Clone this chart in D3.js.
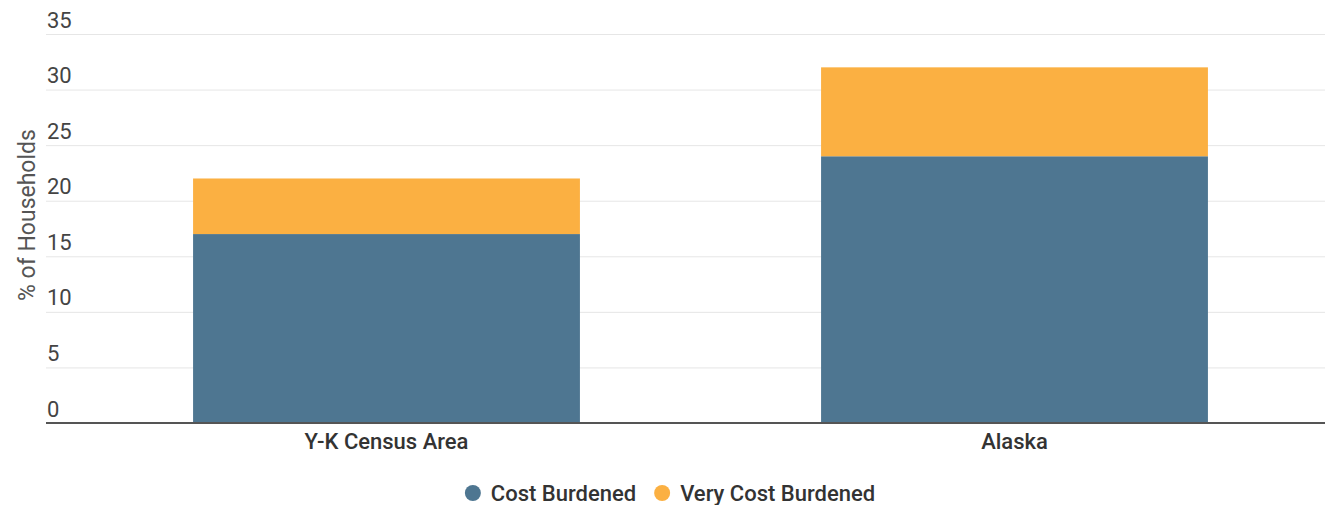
<!DOCTYPE html>
<html>
<head>
<meta charset="utf-8">
<script src="https://cdn.jsdelivr.net/npm/d3@7"></script>
<style>
  html, body { margin: 0; padding: 0; background: #fff; }
  svg { display: block; font-family: Roboto, "Noto Sans", sans-serif; }
</style>
</head>
<body>
<svg id="chart" width="1325" height="505"></svg>
<script>
// Share of households spending too much on housing
const categories = ["Y-K Census Area", "Alaska"];
const costBurdened = [17, 24];
const veryCostBurdened = [5, 8];
const seriesNames = ["Cost Burdened", "Very Cost Burdened"];
const seriesColors = ["#4e7691", "#fbb042"];
const yTicks = [0, 5, 10, 15, 20, 25, 30, 35];

const svg = d3.select("#chart");
const plotLeft = 46, plotRight = 1325, plotTop = 34, plotBottom = 423;

const x = d3.scaleBand()
  .domain(categories)
  .range([72.5, 1328.5])
  .paddingInner(0.384)
  .paddingOuter(0.192);

const y = d3.scaleLinear().domain([0, 35]).range([plotBottom, plotTop]);

// Gridlines and tick labels sitting above each line
const yAxis = d3.axisRight(y)
  .tickValues(yTicks)
  .tickSize(plotRight - plotLeft)
  .tickFormat(d3.format("d"));

const gy = svg.append("g")
  .attr("transform", `translate(${plotLeft},0)`)
  .call(yAxis);
gy.select(".domain").remove();
gy.selectAll(".tick line").attr("stroke", "#e6e6e6").attr("stroke-width", 1);
gy.selectAll(".tick text")
  .attr("x", 1)
  .attr("dy", -7)
  .attr("text-anchor", "start")
  .attr("fill", "#444")
  .style("font-size", "22px")
  .style("font-family", "Roboto, sans-serif");

// Stacked data
const stackData = categories.map((c, i) => ({
  category: c,
  "Cost Burdened": costBurdened[i],
  "Very Cost Burdened": veryCostBurdened[i]
}));
const stacked = d3.stack().keys(seriesNames)(stackData);

svg.append("g").selectAll("g")
  .data(stacked)
  .join("g")
  .attr("fill", (d, i) => seriesColors[i])
  .selectAll("rect")
  .data(d => d)
  .join("rect")
  .attr("x", d => x(d.data.category))
  .attr("width", x.bandwidth())
  .attr("y", d => y(d[1]))
  .attr("height", d => y(d[0]) - y(d[1]));

// Category axis and baseline
const xAxis = d3.axisBottom(x).tickSize(0).tickPadding(10);
const gx = svg.append("g")
  .attr("transform", `translate(0,${plotBottom})`)
  .call(xAxis);
gx.select(".domain").remove();
svg.append("line")
  .attr("x1", plotLeft).attr("x2", plotRight)
  .attr("y1", plotBottom).attr("y2", plotBottom)
  .attr("stroke", "#555").attr("stroke-width", 2);
gx.selectAll(".tick text")
  .attr("dy", "0.71em")
  .attr("y", 10)
  .attr("fill", "#333")
  .style("font-size", "22px")
  .style("font-weight", 500)
  .style("font-family", "Roboto, sans-serif");

// Y axis title
svg.append("text")
  .attr("transform", `translate(35,${215}) rotate(-90)`)
  .attr("text-anchor", "middle")
  .attr("fill", "#555")
  .style("font-size", "23px")
  .text("% of Households");

// Legend
const legend = svg.append("g");
const items = legend.selectAll("g").data(seriesNames).join("g");
items.append("circle").attr("r", 8).attr("cy", -8).attr("fill", (d, i) => seriesColors[i]);
items.append("text")
  .attr("x", 18)
  .attr("fill", "#333")
  .style("font-size", "22px")
  .style("font-weight", 500)
  .text(d => d);
let offset = 0;
items.each(function () {
  const g = d3.select(this);
  g.attr("transform", `translate(${offset},0)`);
  offset += 8 + this.getBBox().width + 10;
});
const totalW = offset - 10;
legend.attr("transform", `translate(${(470 + 878) / 2 - totalW / 2 + 8},501)`);
</script>
</body>
</html>
